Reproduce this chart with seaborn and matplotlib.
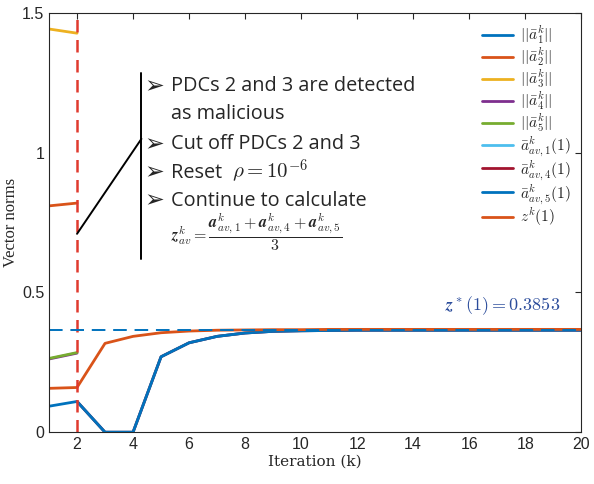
import numpy as np
import pandas as pd
import seaborn as sns
import matplotlib.pyplot as plt

sns.set_style("white")
plt.rcParams["mathtext.fontset"] = "cm"
plt.rcParams["font.family"] = ["Liberation Sans", "DejaVu Sans"]

# data
k_pre = [1, 2]
a1_norm = [0.093, 0.110]
a2_norm = [0.810, 0.820]
a3_norm = [1.443, 1.428]
a4_norm = [0.262, 0.283]
a5_norm = [0.264, 0.285]

k_av = list(range(2, 21))
a_av1 = [0.110, 0.0, 0.0, 0.270, 0.320, 0.343, 0.355, 0.361, 0.363, 0.364,
         0.365, 0.365, 0.365, 0.365, 0.365, 0.365, 0.365, 0.365, 0.365]
a_av4 = a_av1
a_av5 = a_av1

k_z = list(range(1, 21))
z_k = [0.157, 0.160, 0.318, 0.343, 0.356, 0.362, 0.365, 0.366, 0.367, 0.367,
       0.368, 0.368, 0.368, 0.368, 0.368, 0.368, 0.368, 0.368, 0.368, 0.368]

z_star = 0.365
detect_k = 2

series = [
    (r"$||\bar{a}_1^k||$", k_pre, a1_norm, "#0072BD"),
    (r"$||\bar{a}_2^k||$", k_pre, a2_norm, "#D95319"),
    (r"$||\bar{a}_3^k||$", k_pre, a3_norm, "#EDB120"),
    (r"$||\bar{a}_4^k||$", k_pre, a4_norm, "#7E2F8E"),
    (r"$||\bar{a}_5^k||$", k_pre, a5_norm, "#77AC30"),
    (r"$\bar{a}_{av,1}^k(1)$", k_av, a_av1, "#4DBEEE"),
    (r"$\bar{a}_{av,4}^k(1)$", k_av, a_av4, "#A2142F"),
    (r"$\bar{a}_{av,5}^k(1)$", k_av, a_av5, "#0072BD"),
    (r"$z^k(1)$", k_z, z_k, "#D95319"),
]

fig = plt.figure(figsize=(5.94, 4.84), dpi=100)
ax = fig.add_axes([0.0825, 0.107, 0.896, 0.866])

for label, xs, ys, c in series:
    df = pd.DataFrame({"k": xs, "v": ys})
    sns.lineplot(data=df, x="k", y="v", color=c, linewidth=2.0, label=label, ax=ax)

ax.axvline(detect_k, color="#E03A2E", linestyle=(0, (5, 3)), linewidth=1.8)
ax.axhline(z_star, color="#0072BD", linestyle=(0, (7, 4)), linewidth=1.4)

# annotation lines
ax.plot([2, 4.3], [0.71, 1.05], color="black", linewidth=1.4)
ax.plot([4.3, 4.3], [0.62, 1.285], color="black", linewidth=1.4)

tf = ["Open Sans", "DejaVu Sans"]
fs = 14.3
bullets = [1.239, 1.032, 0.929, 0.829]
for y in bullets:
    ax.text(4.42, y, "➢", fontsize=17, family="DejaVu Sans", fontweight="bold",
            va="center")
ax.text(5.35, 1.239, "PDCs 2 and 3 are detected", fontsize=fs, family=tf, va="center")
ax.text(5.35, 1.139, "as malicious", fontsize=fs, family=tf, va="center")
ax.text(5.35, 1.032, "Cut off PDCs 2 and 3", fontsize=fs, family=tf, va="center")
ax.text(5.35, 0.929, "Reset", fontsize=fs, family=tf, va="center")
ax.text(7.55, 0.935, r"$\rho = 10^{-6}$", fontsize=15, va="center")
ax.text(5.35, 0.829, "Continue to calculate", fontsize=fs, family=tf, va="center")
ax.text(5.35, 0.714,
        r"$\boldsymbol{z}_{av}^k = \dfrac{\boldsymbol{a}_{av,1}^k + \boldsymbol{a}_{av,4}^k + \boldsymbol{a}_{av,5}^k}{3}$",
        fontsize=11.5, va="center")
ax.text(17.2, 0.454, r"$\boldsymbol{z}^*(1) = 0.3853$", fontsize=13, color="#2B4C9B",
        ha="center", va="center")

ax.set_xlim(1, 20)
ax.set_ylim(0, 1.5)
ax.set_xticks(range(2, 21, 2))
ax.set_yticks([0, 0.5, 1, 1.5])
ax.set_yticklabels(["0", "0.5", "1", "1.5"])
ax.tick_params(direction="in", top=True, right=True, length=4, labelsize=11.5,
               colors="#262626")
for s in ax.spines.values():
    s.set_color("#262626")
    s.set_linewidth(0.8)

ax.set_xlabel("Iteration (k)", fontsize=11, family="serif", labelpad=2)
ax.set_ylabel("Vector norms", fontsize=12, family=["Liberation Serif"])
ax.yaxis.set_label_coords(-0.057, 0.5)

ax.legend(loc="upper right", fontsize=11, frameon=False, handlelength=2.0,
          labelspacing=0.0, borderaxespad=0.3, handletextpad=0.45)

fig.savefig("out.png", dpi=100)
